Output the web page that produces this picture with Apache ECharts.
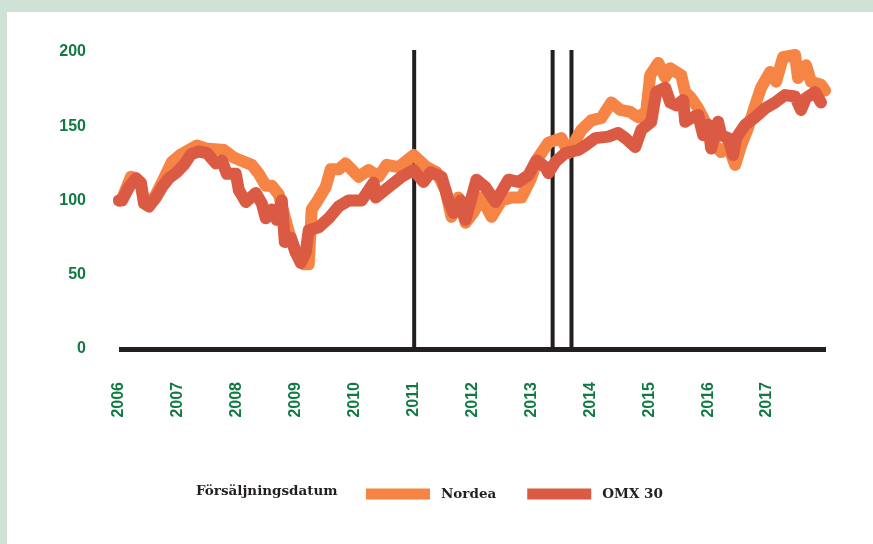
<!DOCTYPE html>
<html>
<head>
<meta charset="utf-8">
<script src="https://cdn.jsdelivr.net/npm/echarts@6/dist/echarts.min.js"></script>
<style>
html,body{margin:0;padding:0;background:#d0e1d6;}
#chart{width:873px;height:544px;}
</style>
</head>
<body>
<div id="chart"></div>
<script>
// Tick labels
const yearTicks = [2006,2007,2008,2009,2010,2011,2012,2013,2014,2015,2016,2017];
const yTicks = [0,50,100,150,200];
// Vertical event lines (sale dates) and their span on the value axis
const eventDates = [2011.01, 2013.36, 2013.68];
const eventSpan = [0, 201.5];

// Nordea (year fraction, index value)
const nordeaYears = [2006.0,2006.051,2006.203,2006.288,2006.373,2006.424,2006.508,2006.627,2006.729,2006.898,2007.051,2007.322,2007.475,2007.780,2007.949,2008.068,2008.254,2008.373,2008.492,2008.593,2008.712,2008.881,2009.0,2009.136,2009.220,2009.271,2009.356,2009.508,2009.593,2009.729,2009.847,2010.017,2010.068,2010.237,2010.407,2010.542,2010.746,2011.0,2011.220,2011.390,2011.542,2011.644,2011.763,2011.881,2012.017,2012.153,2012.322,2012.492,2012.661,2012.831,2012.983,2013.119,2013.288,2013.508,2013.627,2013.847,2014.017,2014.186,2014.356,2014.508,2014.678,2014.814,2014.949,2015.017,2015.153,2015.271,2015.356,2015.542,2015.610,2015.712,2015.831,2015.915,2016.0,2016.119,2016.220,2016.339,2016.458,2016.559,2016.678,2016.797,2016.898,2017.051,2017.153,2017.271,2017.475,2017.525,2017.661,2017.746,2017.915,2017.983];
const nordeaValues = [100,101,116,115,110,99,97,104,112,126,131,137,135,134,129,127,124,118,110,110,104,79,65,57,57,94,99,109,121,121,125,118,116,120.5,116,124,122.5,130.6,122.5,119,107,89,102,85,92,102,89,100,102,102,114,129,139,142,132,147.5,154,155.6,166,161,159.6,156,160,184.5,192.6,183,189,184.5,173,169,162,155.6,149,137,132.6,137,124,137,149,164,176,186.5,180,196.6,198,182.5,191,180,178,174];

// OMX 30 (year fraction, index value)
const omxYears = [2006.0,2006.051,2006.169,2006.288,2006.373,2006.424,2006.508,2006.627,2006.729,2006.847,2006.966,2007.102,2007.220,2007.356,2007.492,2007.644,2007.746,2007.831,2007.983,2008.034,2008.153,2008.322,2008.424,2008.492,2008.593,2008.678,2008.763,2008.814,2008.915,2009.0,2009.085,2009.169,2009.220,2009.390,2009.559,2009.729,2009.898,2010.119,2010.322,2010.356,2010.576,2010.797,2011.0,2011.169,2011.288,2011.475,2011.593,2011.678,2011.797,2011.881,2012.068,2012.220,2012.390,2012.610,2012.780,2012.949,2013.085,2013.237,2013.288,2013.407,2013.576,2013.797,2013.915,2014.085,2014.305,2014.475,2014.593,2014.763,2014.864,2015.034,2015.119,2015.271,2015.356,2015.458,2015.576,2015.610,2015.712,2015.831,2015.915,2016.0,2016.051,2016.169,2016.220,2016.339,2016.424,2016.475,2016.627,2016.797,2016.966,2017.136,2017.305,2017.475,2017.576,2017.661,2017.814,2017.915];
const omxValues = [100,100,109,115,112,98,96,102,109,115,118.5,124,131,133,132,125,127,118,118,107,99,105,98,88,94,87,100,72,75,65,58,65,80,82,88,96,100,100,112,102,109,116,120.5,112.5,119,116,100,91.6,100,87,114,109,99,114,112.5,117,127,122.5,118.5,126,132,134,137,142,143,145.5,142,136,147.5,153,173,176,166,164,167.6,153,155.6,157.6,144,151,135,153,144,142,130.6,142,151,156,162,166,171,170,161,169,173,166];

const pair = (xs, ys) => xs.map((x, i) => [x, ys[i]]);

const chart = echarts.init(document.getElementById('chart'), null, {renderer: 'canvas'});
const ink = '#231f20';
const green = '#0f7a42';
const serif = '"DejaVu Serif", serif';

const eventSeries = eventDates.map((d, i) => ({
  name: 'event' + i, type: 'line', z: 1, silent: true,
  data: eventSpan.map(v => [d, v]),
  showSymbol: false, color: ink,
  lineStyle: {width: 4, color: ink, cap: 'butt'}
}));

chart.setOption({
  animation: false,
  backgroundColor: '#d0e1d6',
  graphic: [
    {type: 'rect', z: -10, shape: {x: 7, y: 12, width: 880, height: 540}, style: {fill: '#ffffff'}},
    {type: 'text', left: 196, top: 484, style: {text: 'Försäljningsdatum', font: 'bold 13.5px ' + serif, fill: ink}}
  ],
  grid: {left: 119, right: 47, top: 52, bottom: 195},
  xAxis: {
    type: 'value', min: 2006, max: 2018, interval: 1,
    axisLine: {show: true, onZero: false, lineStyle: {color: ink, width: 5, cap: 'butt'}},
    axisTick: {show: false},
    splitLine: {show: false},
    axisLabel: {
      rotate: 90, margin: 33, color: green, fontWeight: 'bold', fontSize: 16,
      fontFamily: '"Liberation Sans", Arial, sans-serif',
      formatter: v => yearTicks.includes(v) ? String(v) : ''
    }
  },
  yAxis: {
    type: 'value', min: 0, max: 200, interval: 50,
    axisLine: {show: false}, axisTick: {show: false}, splitLine: {show: false},
    axisLabel: {
      margin: 33, color: green, fontWeight: 'bold', fontSize: 16,
      fontFamily: '"Liberation Sans", Arial, sans-serif',
      formatter: v => yTicks.includes(v) ? String(v) : ''
    }
  },
  legend: {
    data: ['Nordea', 'OMX 30'],
    left: 366, top: 487, padding: 0,
    icon: 'rect', itemWidth: 64, itemHeight: 11, itemGap: 31,
    textStyle: {color: ink, fontFamily: serif, fontWeight: 'bold', fontSize: 13.5, padding: [0, 0, 0, 6]}
  },
  series: eventSeries.concat([
    {
      name: 'Nordea', type: 'line', data: pair(nordeaYears, nordeaValues), z: 2,
      showSymbol: false, color: '#f58445',
      lineStyle: {width: 12, cap: 'round', join: 'round', color: '#f58445'}
    },
    {
      name: 'OMX 30', type: 'line', data: pair(omxYears, omxValues), z: 3,
      showSymbol: false, color: '#db5a43',
      lineStyle: {width: 12, cap: 'round', join: 'round', color: '#db5a43'}
    }
  ])
});
</script>
</body>
</html>
